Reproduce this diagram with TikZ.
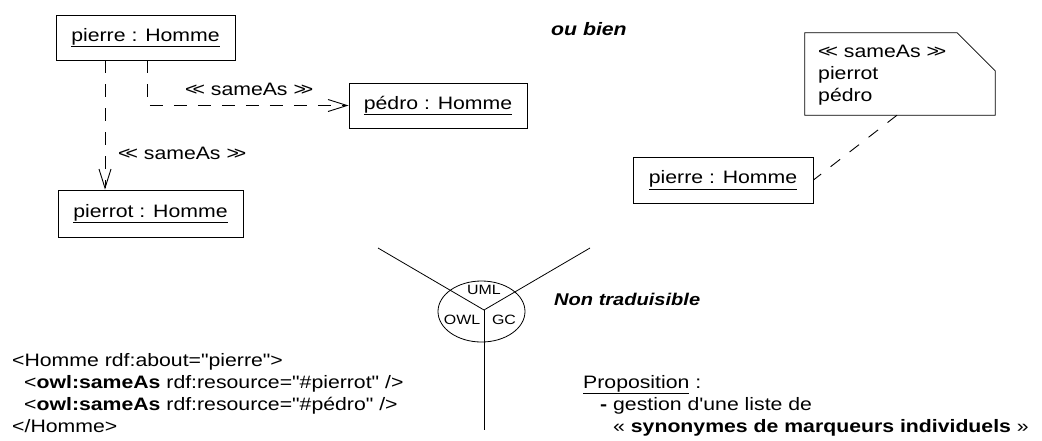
\documentclass[tikz,border=0pt]{standalone}
\usepackage{fontspec}
\newfontfamily\af{Liberation Sans}[FakeStretch=1.18]
\usetikzlibrary{arrows.meta,shapes.geometric}
\tikzset{
  txt/.style={font=\af\fontsize{18}{21.8}\selectfont, inner sep=0pt, anchor=base west, align=left},
  small/.style={font=\af\fontsize{13.5}{15}\selectfont, inner sep=0pt},
  obj/.style={draw, line width=0.9pt, inner sep=0pt, font=\af\fontsize{18}{22}\selectfont},
  dep/.style={line width=0.9pt, dash pattern=on 13pt off 11pt},
  vtip/.style={-{Straight Barb[length=19pt,width=12pt,line width=0.9pt]}},
  thin/.style={line width=0.8pt}
}
\newcommand{\sameas}{<\kern-5pt< sameAs >\kern-5pt>}
\begin{document}
\begin{tikzpicture}[x=1pt,y=-1pt]
\useasboundingbox (0,0) rectangle (1042,440);
% left UML objects
\node[obj, minimum width=179pt, minimum height=45pt] (pierre) at (145.5,37.5) {\underline{pierre : Homme}};
\node[obj, minimum width=178pt, minimum height=45pt] (pedro) at (438,105.5) {\underline{pédro : Homme}};
\node[obj, minimum width=185pt, minimum height=47pt] (pierrot) at (150.5,213.5) {\underline{pierrot : Homme}};
\draw[dep, vtip] (pierre.south -| 105,0) -- (pierrot.north -| 105,0);
\draw[dep, vtip] (pierre.south -| 147,0) |- (pedro.west);
\node[txt] (lab1) at (185,95) {\sameas};
\node[txt] (lab2) at (118,159) {\sameas};
% ou bien
\node[txt, font=\af\fontsize{18}{22}\selectfont\bfseries\itshape] (oubien) at (551,35) {ou bien};
% note
\node[minimum width=190pt, minimum height=82pt, inner sep=0pt] (note) at (900,74) {};
\draw[thin] (note.north west) -- ([xshift=-38pt]note.north east) -- ([yshift=-38pt]note.north east) -- (note.south east) -- (note.south west) -- cycle;
\node[txt] (notetxt) at (818,101) {\sameas\\pierrot\\pédro};
\node[obj, minimum width=180pt, minimum height=46pt] (pierre2) at (723,180) {\underline{pierre : Homme}};
\draw[dep, dash pattern=on 12pt off 12pt] (note.south -| 897,0) -- (pierre2.east);
% ellipse
\node[draw, thin, ellipse, minimum width=87pt, minimum height=61pt, inner sep=0pt] (ell) at (481.5,311.5) {};
\coordinate (Y) at (484,310);
\coordinate (ul) at (378,248);
\coordinate (ur) at (590,248);
\coordinate (bt) at (484,430);
\draw[thin] (Y) -- (ul);
\draw[thin] (Y) -- (ur);
\draw[thin] (Y) -- (bt);
\node[small] (uml) at (484,290) {UML};
\node[small] (owl) at (462,320) {OWL};
\node[small] (gc) at (504,320) {GC};
\node[txt, font=\af\fontsize{17}{22}\selectfont\bfseries\itshape] (nontrad) at (554,305) {Non traduisible};
% code
\node[txt] (code) at (12,432) {<Homme rdf:about="pierre">\\
\hspace*{12pt}<\textbf{owl:sameAs} rdf:resource="\#pierrot" />\\
\hspace*{12pt}<\textbf{owl:sameAs} rdf:resource="\#pédro" />\\
</Homme>};
% proposition
\node[txt] (prop) at (583,388) {\underline{Proposition} :};
\node[txt] (prop2) at (600,410) {\textbf{-} gestion d'une liste de};
\node[txt] (prop3) at (613,432) {« \textbf{synonymes de marqueurs individuels} »};
\end{tikzpicture}
\end{document}
